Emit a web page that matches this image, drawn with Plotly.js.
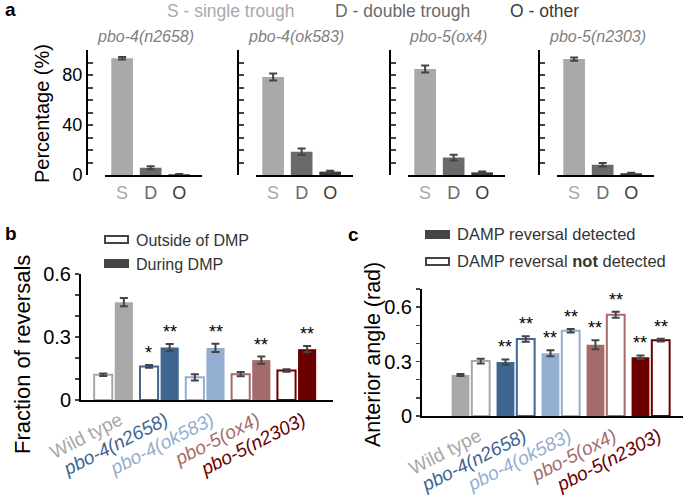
<!DOCTYPE html>
<html><head><meta charset="utf-8">
<script src="https://cdn.plot.ly/plotly-3.0.1.min.js"></script>
<style>html,body{margin:0;padding:0;background:#fff}</style>
</head><body><div id="chart" style="width:685px;height:501px"></div>
<script>
// ---------- Panel a data ----------
const aGenotypes = ['pbo-4(n2658)', 'pbo-4(ok583)', 'pbo-5(ox4)', 'pbo-5(n2303)'];
const aCategories = ['S', 'D', 'O'];
const aSingle = [93.5, 78.5, 84.8, 92.8];
const aSingleErr = [1.0, 2.8, 2.8, 1.3];
const aDouble = [5.8, 18.6, 14.0, 8.2];
const aDoubleErr = [1.2, 2.6, 2.3, 1.4];
const aOther = [0.6, 2.7, 2.1, 1.4];
const aOtherErr = [0.3, 0.8, 0.8, 0.5];
const aYTickVals = [0, 10, 20, 30, 40, 50, 60, 70, 80, 90, 100];
const aYTickText = ['0', '', '', '', '40', '', '', '', '80', '', ''];
const aLegendText = ['S - single trough', 'D - double trough', 'O - other'];

// ---------- Panel b data ----------
const genotypes = ['Wild type', 'pbo-4(n2658)', 'pbo-4(ok583)', 'pbo-5(ox4)', 'pbo-5(n2303)'];
const bOutside = [0.12, 0.16, 0.108, 0.123, 0.14];
const bOutsideErr = [0.006, 0.007, 0.015, 0.01, 0.006];
const bDuring = [0.466, 0.25, 0.248, 0.19, 0.242];
const bDuringErr = [0.02, 0.017, 0.02, 0.017, 0.015];
const bOutsideStars = ['', '*', '', '', ''];
const bDuringStars = ['', '**', '**', '**', '**'];
const bYTickVals = [0, 0.1, 0.2, 0.3, 0.4, 0.5, 0.6];
const bYTickText = ['0', '', '', '0.3', '', '', '0.6'];
const bLegend = ['Outside of DMP', 'During DMP'];

// ---------- Panel c data ----------
const cDetected = [0.226, 0.297, 0.346, 0.393, 0.324];
const cDetectedErr = [0.006, 0.015, 0.017, 0.025, 0.01];
const cNotDetected = [0.303, 0.424, 0.47, 0.558, 0.418];
const cNotDetectedErr = [0.013, 0.015, 0.01, 0.017, 0.008];
const cDetectedStars = ['', '**', '**', '**', '**'];
const cNotDetectedStars = ['', '**', '**', '**', '**'];
const cYTickVals = [0, 0.1, 0.2, 0.3, 0.4, 0.5, 0.6, 0.7];
const cYTickText = ['0', '', '', '0.3', '', '', '0.6', ''];
const cLegend = ['DAMP reversal detected', 'DAMP reversal <b>not</b> detected'];

// ---------- styles ----------
const catColors = ['#a9a9a9', '#6a6a6a', '#3b3b3b'];
const genoColors = ['#a8a8a8', '#3f6590', '#93aed0', '#a56b6b', '#6a0000'];
const errColor = '#444';
const FONT = 'Liberation Sans, Arial, sans-serif';

const W = 685, H = 501;
const X = p => p / W;
const Y = p => 1 - p / H;

const traces = [];
const layout = {
  width: W, height: H,
  margin: {l: 0, r: 0, t: 0, b: 0},
  paper_bgcolor: '#fff', plot_bgcolor: 'rgba(0,0,0,0)',
  showlegend: false,
  barmode: 'group', bargap: 0.1, bargroupgap: 0.12,
  font: {family: FONT, color: '#000'},
  annotations: [], shapes: []
};
function note(o) {
  layout.annotations.push(Object.assign({xref: 'paper', yref: 'paper', xanchor: 'center', yanchor: 'middle', showarrow: false}, o));
}

// ---------- Panel a ----------
const aAxisPx = [87, 238, 390, 539];
aGenotypes.forEach((g, i) => {
  const n = i + 1;
  const xa = 'xaxis' + (n === 1 ? '' : n), ya = 'yaxis' + (n === 1 ? '' : n);
  const xr = 'x' + (n === 1 ? '' : n), yr = 'y' + (n === 1 ? '' : n);
  traces.push({
    type: 'bar', x: aCategories, y: [aSingle[i], aDouble[i], aOther[i]],
    xaxis: xr, yaxis: yr, width: 0.76,
    marker: {color: catColors},
    error_y: {type: 'data', array: [aSingleErr[i], aDoubleErr[i], aOtherErr[i]], color: errColor, thickness: 2, width: 4},
    hoverinfo: 'skip'
  });
  const ax = aAxisPx[i];
  layout[xa] = {
    domain: [X(ax + 18), X(ax + 115)], anchor: yr, range: [-0.6, 2.8],
    showline: true, linewidth: 2, linecolor: '#000', ticks: '', showgrid: false, zeroline: false,
    tickvals: [0, 1, 2],
    ticktext: aCategories.map((c, k) => '<span style="color:' + catColors[k] + '">' + c + '</span>'),
    tickfont: {size: 18, family: FONT}, fixedrange: true
  };
  layout[ya] = {
    domain: [Y(175), Y(50)], anchor: 'free', position: X(ax), range: [0, 100],
    showline: true, linewidth: 2, linecolor: '#000', ticks: 'inside', ticklen: 5, tickwidth: 2,
    tickvals: aYTickVals, ticktext: aYTickText, showticklabels: i === 0,
    tickfont: {size: 18, family: FONT}, showgrid: false, zeroline: false, fixedrange: true
  };
  note({x: X(ax + 58), y: Y(37), text: '<i>' + g + '</i>', font: {size: 16, color: '#7f7f7f', family: FONT}});
});
note({x: X(42), y: Y(114), text: 'Percentage (%)', textangle: -90, font: {size: 20, family: FONT}});
const aLegendX = [165, 333, 508];
aLegendText.forEach((t, k) => note({x: X(aLegendX[k]), y: Y(11), xanchor: 'left', text: t, font: {size: 17.5, color: catColors[k], family: FONT}}));

// ---------- shared tick text for b and c ----------
const genoTick = genotypes.map((g, k) => '<span style="color:' + genoColors[k] + '">' + (k === 0 ? g : '<i>' + g + '</i>') + '</span>');
const idx = genotypes.map((g, k) => k);

// ---------- Panel b ----------
traces.push({
  type: 'bar', x: idx, y: bOutside, xaxis: 'x5', yaxis: 'y5',
  marker: {color: '#fff', line: {color: genoColors, width: 2}},
  error_y: {type: 'data', array: bOutsideErr, color: errColor, thickness: 2, width: 4}, hoverinfo: 'skip'
});
traces.push({
  type: 'bar', x: idx, y: bDuring, xaxis: 'x5', yaxis: 'y5',
  marker: {color: genoColors},
  error_y: {type: 'data', array: bDuringErr, color: errColor, thickness: 2, width: 4}, hoverinfo: 'skip'
});
layout.xaxis5 = {
  domain: [X(81), X(333)], anchor: 'y5', range: [-0.71, 4.79],
  showline: true, linewidth: 2, linecolor: '#000', ticks: '', showgrid: false, zeroline: false,
  tickvals: idx, ticktext: genoTick, tickangle: -27, ticklabelshift: 6, tickfont: {size: 19, family: FONT}, fixedrange: true
};
layout.yaxis5 = {
  domain: [Y(400), Y(274)], anchor: 'x5', range: [0, 0.6],
  showline: true, linewidth: 2, linecolor: '#000', ticks: 'outside', ticklen: 4, tickwidth: 1.5,
  tickvals: bYTickVals, ticktext: bYTickText, tickfont: {size: 20, family: FONT},
  showgrid: false, zeroline: false, fixedrange: true
};
const starFont = {size: 18, family: FONT};
bOutsideStars.forEach((s, k) => { if (s) layout.annotations.push({xref: 'x5', yref: 'y5', x: k, y: bOutside[k] + bOutsideErr[k], xshift: -10.5, xanchor: 'center', yanchor: 'bottom', text: s, showarrow: false, font: starFont}); });
bDuringStars.forEach((s, k) => { if (s) layout.annotations.push({xref: 'x5', yref: 'y5', x: k, y: bDuring[k] + bDuringErr[k], xshift: 10.5, xanchor: 'center', yanchor: 'bottom', text: s, showarrow: false, font: starFont}); });
note({x: X(22), y: Y(355), text: 'Fraction of reversals', textangle: -90, font: {size: 22, family: FONT}});
layout.shapes.push({type: 'rect', xref: 'paper', yref: 'paper', x0: X(105), x1: X(128), y0: Y(243), y1: Y(236), line: {color: '#444', width: 2}, fillcolor: '#fff'});
layout.shapes.push({type: 'rect', xref: 'paper', yref: 'paper', x0: X(104), x1: X(129), y0: Y(268), y1: Y(259), line: {width: 0}, fillcolor: '#444'});
note({x: X(134), y: Y(240), xanchor: 'left', text: bLegend[0], font: {size: 16, color: '#333', family: FONT}});
note({x: X(134), y: Y(264), xanchor: 'left', text: bLegend[1], font: {size: 16, color: '#333', family: FONT}});

// ---------- Panel c ----------
traces.push({
  type: 'bar', x: idx, y: cDetected, xaxis: 'x6', yaxis: 'y6',
  marker: {color: genoColors},
  error_y: {type: 'data', array: cDetectedErr, color: errColor, thickness: 2, width: 4}, hoverinfo: 'skip'
});
traces.push({
  type: 'bar', x: idx, y: cNotDetected, xaxis: 'x6', yaxis: 'y6',
  marker: {color: '#fff', line: {color: genoColors, width: 2}},
  error_y: {type: 'data', array: cNotDetectedErr, color: errColor, thickness: 2, width: 4}, hoverinfo: 'skip'
});
layout.xaxis6 = {
  domain: [X(422), X(683)], anchor: 'y6', range: [-1.08, 4.72],
  showline: true, linewidth: 2, linecolor: '#000', ticks: '', showgrid: false, zeroline: false,
  tickvals: idx, ticktext: genoTick, tickangle: -27, ticklabelshift: 8, tickfont: {size: 19, family: FONT}, fixedrange: true
};
layout.yaxis6 = {
  domain: [Y(416), Y(289)], anchor: 'x6', range: [0, 0.7],
  showline: true, linewidth: 2, linecolor: '#000', ticks: 'outside', ticklen: 4, tickwidth: 1.5,
  tickvals: cYTickVals, ticktext: cYTickText, tickfont: {size: 20, family: FONT},
  showgrid: false, zeroline: false, fixedrange: true
};
cDetectedStars.forEach((s, k) => { if (s) layout.annotations.push({xref: 'x6', yref: 'y6', x: k, y: cDetected[k] + cDetectedErr[k], xshift: -10.3, xanchor: 'center', yanchor: 'bottom', text: s, showarrow: false, font: starFont}); });
cNotDetectedStars.forEach((s, k) => { if (s) layout.annotations.push({xref: 'x6', yref: 'y6', x: k, y: cNotDetected[k] + cNotDetectedErr[k], xshift: 10.3, xanchor: 'center', yanchor: 'bottom', text: s, showarrow: false, font: starFont}); });
note({x: X(373), y: Y(355), text: 'Anterior angle (rad)', textangle: -90, font: {size: 21.5, family: FONT}});
layout.shapes.push({type: 'rect', xref: 'paper', yref: 'paper', x0: X(425), x1: X(450), y0: Y(239), y1: Y(230), line: {width: 0}, fillcolor: '#444'});
layout.shapes.push({type: 'rect', xref: 'paper', yref: 'paper', x0: X(426), x1: X(449), y0: Y(265), y1: Y(258), line: {color: '#444', width: 2}, fillcolor: '#fff'});
note({x: X(455), y: Y(234), xanchor: 'left', text: cLegend[0], font: {size: 16.5, color: '#333', family: FONT}});
note({x: X(455), y: Y(261), xanchor: 'left', text: cLegend[1], font: {size: 16.5, color: '#333', family: FONT}});

// ---------- panel letters ----------
[['a', 3, 10], ['b', 3, 233], ['c', 346, 234]].forEach(([t, px, py]) => note({
  x: X(px), y: Y(py), xanchor: 'left', text: '<b>' + t + '</b>', font: {size: 19, family: FONT}
}));

Plotly.newPlot('chart', traces, layout, {displayModeBar: false, staticPlot: true});
</script></body></html>
